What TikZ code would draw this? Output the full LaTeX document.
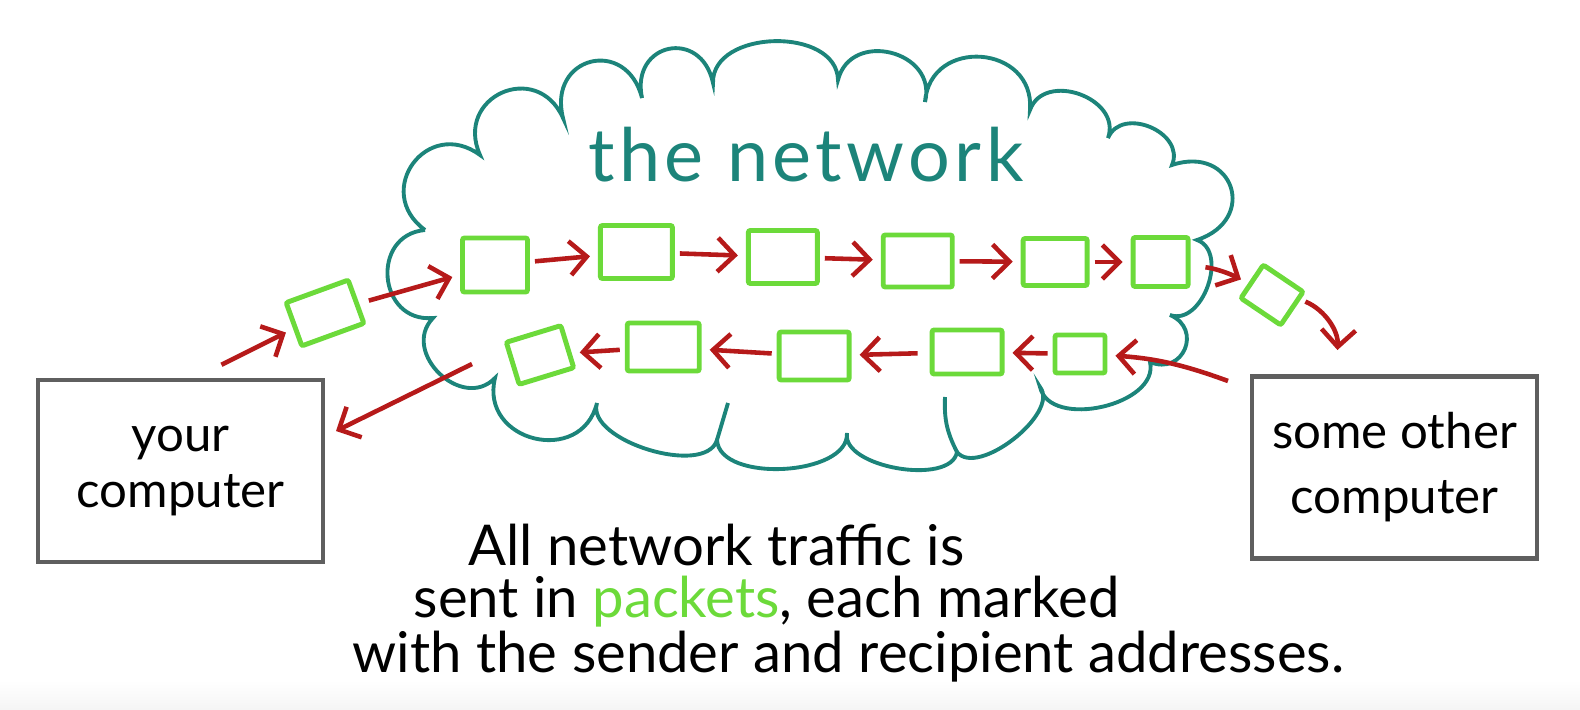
\documentclass[tikz,border=0pt]{standalone}
\usepackage{fontspec}
\setmainfont{Lato}
\newfontfamily\spaced{Lato}[LetterSpace=6]
\usetikzlibrary{arrows.meta,positioning}
\definecolor{netteal}{RGB}{28,132,122}
\definecolor{pktgreen}{RGB}{108,218,58}
\definecolor{arrred}{RGB}{182,26,26}
\definecolor{boxgray}{RGB}{95,95,95}

\begin{document}
\begin{tikzpicture}[
x=0.1mm,y=-0.1mm,
pkt/.style={draw=pktgreen,line width=1.4pt,rounded corners=0.6pt,minimum width=6.6mm,minimum height=5.2mm,inner sep=0pt},
comp/.style={draw=boxgray,line width=1.2pt,minimum width=28.5mm,minimum height=18.2mm,align=center,font=\fontsize{14}{16}\selectfont},
arr/.style={draw=arrred,line width=1.3pt,-{Straight Barb[length=1.7mm,width=3.4mm]},shorten <=0.5mm,shorten >=0.8mm},
puff/.style={bend left=90,looseness=#1},
puff/.default=1.5,
note/.style={anchor=base west,inner sep=0pt,font=\fontsize{16}{19}\selectfont}]
\useasboundingbox (0,0) rectangle (1580,710);
\shade[top color=white,bottom color=gray!8] (0,680) rectangle (1580,710);

% cloud outline
\draw[netteal,line width=1.1pt]
  (425,230) to[puff=1.8] (480,155) to[puff=1.8] (563,118) to[puff=2] (642,98)
  to[puff=2] (713,83) to[puff=1.1] (838,80) to[puff=1.5] (925,102)
  to[puff=1.6] (1030,110) to[puff=1.3] (1108,138) to[puff=1.3] (1172,165)
  to[puff=2.1] (1197,240) to[puff=1.1] (1170,315) to[puff=1.8] (1150,362)
  to[puff=1] (1040,387) to[puff=0.8] (957,452) to[puff=0.8] (847,433)
  to[puff=0.85] (717,440) to[puff=0.8] (597,403) to[puff=1.6] (495,378)
  to[puff=1.4] (433,318) to[puff=1.6] (425,230);
\draw[netteal,line width=1.1pt] (945,397) to[bend right=15] (957,452);
\draw[netteal,line width=1.1pt] (728,403) -- (717,440);

\node[font=\spaced\fontsize{21}{25}\selectfont,text=netteal,anchor=base] (net) at (806,182) {the network};

% packets going out
\node[pkt,minimum width=6.6mm,minimum height=4.6mm,rotate=20] (lp) at (325,313) {};
\node[pkt,minimum width=6.5mm,minimum height=5.4mm] (p1) at (495,265) {};
\node[pkt,minimum width=7.2mm,minimum height=5.3mm,right=6.8mm of p1,yshift=1.3mm] (p2) {};
\node[pkt,minimum width=6.9mm,minimum height=5.3mm,right=7.1mm of p2,yshift=-0.5mm] (p3) {};
\node[pkt,minimum width=6.9mm,minimum height=5.2mm,right=6.1mm of p3,yshift=-0.4mm] (p4) {};
\node[pkt,minimum width=6.4mm,minimum height=4.7mm,right=6.6mm of p4,yshift=-0.1mm] (p5) {};
\node[pkt,minimum width=5.5mm,minimum height=4.9mm,right=4.1mm of p5] (p6) {};
\node[pkt,minimum width=4.8mm,minimum height=4mm,rotate=-34] (rp) at (1272,295) {};

% packets coming back
\node[pkt,minimum width=5mm,minimum height=3.8mm] (b5) at (1080,354) {};
\node[pkt,minimum width=7mm,minimum height=4.4mm,left=4.8mm of b5,yshift=0.2mm] (b4) {};
\node[pkt,minimum width=7mm,minimum height=4.8mm,left=7.8mm of b4,yshift=-0.4mm] (b3) {};
\node[pkt,minimum width=7.2mm,minimum height=4.8mm,left=7.5mm of b3,yshift=0.9mm] (b2) {};
\node[pkt,minimum width=5.7mm,minimum height=4.4mm,rotate=17] (b1) at (540,355) {};

% computers
\node[comp] (yc) at (180.5,471) {your\\computer};
\node[comp,font=\fontsize{14}{18.5}\selectfont] (oc) at (1394.5,467.5) {some other\\computer};
\coordinate (yout) at (217,367);
\coordinate (yfrom) at (472,364);
\coordinate (yin) at (336,431);
\coordinate (oin) at (1337,358);
\coordinate (oout) at (1228,381);

\draw[arr] (yout) -- (lp);
\draw[arr,shorten <=1mm] (lp) -- (p1);
\draw[arr] (p1) -- (p2);
\draw[arr] (p2) -- (p3);
\draw[arr] (p3) -- (p4);
\draw[arr] (p4) -- (p5);
\draw[arr] (p5) -- (p6);
\draw[arr,shorten <=1.5mm] (p6) to[bend left=10] (rp);
\draw[arr] (rp) to[bend left=35] (oin);
\draw[arr,shorten <=0pt] (oout) to[bend right=8] (b5);
\draw[arr] (b5) -- (b4);
\draw[arr,shorten <=1.2mm] (b4) -- (b3);
\draw[arr] (b3) -- (b2);
\draw[arr] (b2) -- (b1);
\draw[arr,shorten <=0pt,shorten >=0pt] (yfrom) -- (yin);

% caption
\node[note] (l1) at (468,566) {All network traffic is};
\node[note] (l2) at (413,617) {sent in {\color{pktgreen}packets}, each marked};
\node[note] (l3) at (352,673) {with the sender and recipient addresses.};
\end{tikzpicture}
\end{document}
